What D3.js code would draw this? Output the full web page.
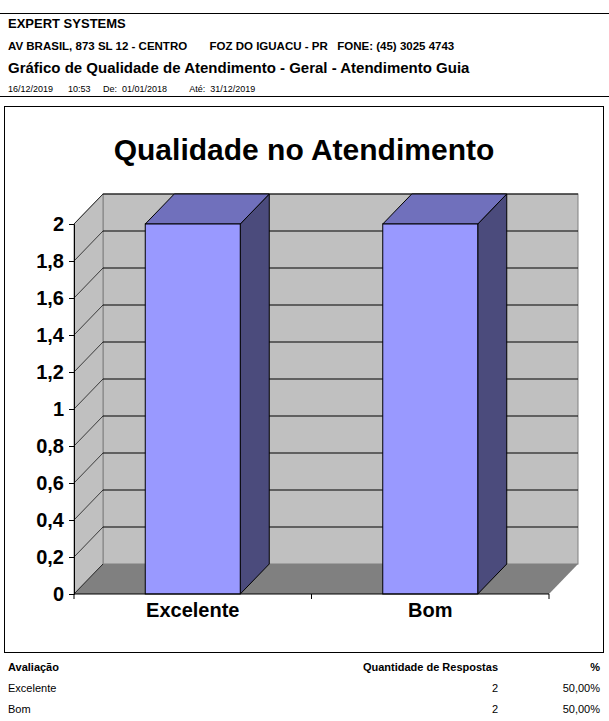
<!DOCTYPE html>
<html><head><meta charset="utf-8">
<script src="https://cdn.jsdelivr.net/npm/d3@7"></script>
<style>body{margin:0;background:#fff;font-family:Arial,"Liberation Sans",sans-serif}</style>
</head><body>
<svg id="c" width="609" height="721"></svg>
<script>
var categories = ["Excelente", "Bom"];
var values = [2, 2];
var percents = ["50,00%", "50,00%"];
var yTicks = [0, 0.2, 0.4, 0.6, 0.8, 1, 1.2, 1.4, 1.6, 1.8, 2];

var svg = d3.select("#c");
var dx = 29, dy = -30;

// header
svg.append("line").attr("x1", 0).attr("x2", 609).attr("y1", 13.5).attr("y2", 13.5).attr("stroke", "#000");
svg.append("line").attr("x1", 0).attr("x2", 609).attr("y1", 96.5).attr("y2", 96.5).attr("stroke", "#000");
var hdr = [
    {t: "EXPERT SYSTEMS", y: 28, s: 13, w: "bold"},
    {t: "AV BRASIL, 873 SL 12 - CENTRO       FOZ DO IGUACU - PR   FONE: (45) 3025 4743", y: 50, s: 11.5, w: "bold"},
    {t: "Gráfico de Qualidade de Atendimento - Geral - Atendimento Guia", y: 73, s: 15, w: "bold"},
    {t: "16/12/2019      10:53     De:  01/01/2018         Até:  31/12/2019", y: 92, s: 9, w: "normal"}
];
hdr.forEach(function(h) {
    svg.append("text").attr("x", 8).attr("y", h.y).attr("font-size", h.s).attr("font-weight", h.w)
        .attr("xml:space", "preserve").text(h.t);
});

// chart frame
svg.append("rect").attr("x", 4.5).attr("y", 106.5).attr("width", 599).attr("height", 546)
    .attr("fill", "#fff").attr("stroke", "#000");
svg.append("text").attr("x", 304).attr("y", 160).attr("text-anchor", "middle")
    .attr("font-size", 30).attr("font-weight", "bold").text("Qualidade no Atendimento");

var x0 = 74, x1 = 549;
var y = d3.scaleLinear().domain([0, 2]).range([594, 224]);
var x = d3.scaleBand().domain(categories).range([x0, x1]).paddingInner(0.6).paddingOuter(0.3);
var yTop = y(2) + dy;

// back wall
svg.append("rect").attr("x", x0 + dx).attr("y", yTop).attr("width", x1 - x0)
    .attr("height", y(0) - y(2)).attr("fill", "#c0c0c0").attr("stroke", "#808080");
// left wall
svg.append("polygon").attr("points", [[x0, y(0)], [x0 + dx, y(0) + dy], [x0 + dx, yTop], [x0, y(2)]].join(" "))
    .attr("fill", "#c0c0c0").attr("stroke", "#808080");
// floor
svg.append("polygon").attr("points", [[x0, y(0)], [x1, y(0)], [x1 + dx, y(0) + dy], [x0 + dx, y(0) + dy]].join(" "))
    .attr("fill", "#808080");

// gridlines
yTicks.forEach(function(t) {
    if (t > 0) {
        svg.append("line").attr("x1", x0 + dx).attr("x2", x1 + dx).attr("y1", y(t) + dy).attr("y2", y(t) + dy)
            .attr("stroke", "#000");
    }
    svg.append("line").attr("x1", x0).attr("x2", x0 + dx).attr("y1", y(t)).attr("y2", y(t) + dy)
        .attr("stroke", "#000").attr("stroke-width", 0.7);
});

// bars
categories.forEach(function(c, i) {
    var bx = x(c), bw = x.bandwidth(), by = y(values[i]), b0 = y(0);
    svg.append("polygon").attr("points", [[bx + bw, by], [bx + bw + dx, by + dy], [bx + bw + dx, b0 + dy], [bx + bw, b0]].join(" "))
        .attr("fill", "#4b4b7c").attr("stroke", "#000");
    svg.append("polygon").attr("points", [[bx, by], [bx + dx, by + dy], [bx + bw + dx, by + dy], [bx + bw, by]].join(" "))
        .attr("fill", "#7070bc").attr("stroke", "#000");
    svg.append("rect").attr("x", bx).attr("y", by).attr("width", bw).attr("height", b0 - by)
        .attr("fill", "#9999ff").attr("stroke", "#000");
});

// axes
var yAxis = svg.append("g").attr("transform", "translate(" + x0 + ",0)")
    .call(d3.axisLeft(y).tickValues(yTicks).tickSize(5).tickFormat(function(d) { return d3.format("")(d).replace(".", ","); }));
yAxis.selectAll("text").attr("font-size", 20).attr("font-weight", "bold").attr("fill", "#000").attr("dx", -2);
yAxis.selectAll("line,path").attr("stroke", "#000");

var xAxis = svg.append("g").attr("transform", "translate(0," + y(0) + ")")
    .call(d3.axisBottom(x).tickSize(0));
xAxis.select("path").attr("d", "M" + x0 + ",0H" + x1).attr("stroke", "#000");
xAxis.selectAll("text").attr("font-size", 20).attr("font-weight", "bold").attr("fill", "#000").attr("dy", 20);
[x0, (x0 + x1) / 2, x1].forEach(function(t) {
    svg.append("line").attr("x1", t).attr("x2", t).attr("y1", y(0)).attr("y2", y(0) + 5).attr("stroke", "#000");
});

// table
svg.append("text").attr("x", 8).attr("y", 671).attr("font-size", 11).attr("font-weight", "bold").text("Avaliação");
svg.append("text").attr("x", 498).attr("y", 671).attr("font-size", 11).attr("font-weight", "bold").attr("text-anchor", "end").text("Quantidade de Respostas");
svg.append("text").attr("x", 600).attr("y", 671).attr("font-size", 11).attr("font-weight", "bold").attr("text-anchor", "end").text("%");
categories.forEach(function(c, i) {
    var ty = 692 + i * 21;
    svg.append("text").attr("x", 8).attr("y", ty).attr("font-size", 11).text(c);
    svg.append("text").attr("x", 498).attr("y", ty).attr("font-size", 11).attr("text-anchor", "end").text(values[i]);
    svg.append("text").attr("x", 600).attr("y", ty).attr("font-size", 11).attr("text-anchor", "end").text(percents[i]);
});
</script>
</body></html>
